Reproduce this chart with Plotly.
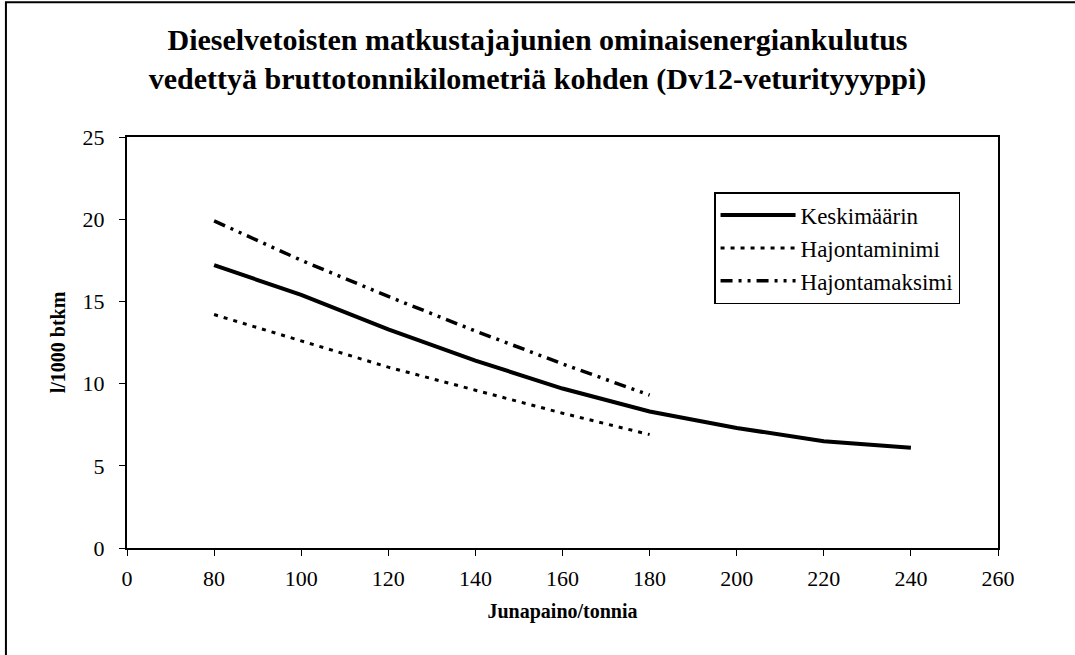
import plotly.graph_objects as go

# x-axis categories as printed on the chart (equally spaced)
tick_labels = ["0", "80", "100", "120", "140", "160", "180", "200", "220", "240", "260"]

# train weight (tonnes) and consumption (l/1000 btkm)
weights_avg = [80, 100, 120, 140, 160, 180, 200, 220, 240]
keskimaarin = [17.2, 15.4, 13.3, 11.4, 9.7, 8.3, 7.3, 6.5, 6.1]

weights_range = [80, 100, 120, 140, 160, 180]
hajontaminimi = [14.2, 12.6, 11.0, 9.6, 8.2, 6.9]
hajontamaksimi = [19.9, 17.5, 15.3, 13.2, 11.2, 9.3]

serif = "Liberation Serif, Times New Roman, serif"

fig = go.Figure()

fig.add_trace(go.Scatter(
    x=[str(w) for w in weights_avg], y=keskimaarin, mode="lines",
    name="Keskimäärin", line=dict(color="black", width=4)))
fig.add_trace(go.Scatter(
    x=[str(w) for w in weights_range], y=hajontaminimi, mode="lines",
    name="Hajontaminimi", line=dict(color="black", width=3, dash="4px,6px")))
fig.add_trace(go.Scatter(
    x=[str(w) for w in weights_range], y=hajontamaksimi, mode="lines",
    name="Hajontamaksimi",
    line=dict(color="black", width=3.5, dash="12px,6px,3px,6px,3px,6px")))

fig.update_layout(
    width=1075, height=655,
    paper_bgcolor="white", plot_bgcolor="white",
    font=dict(family=serif, size=22, color="black"),
    margin=dict(l=127, r=77, t=137, b=107),
    title=dict(
        text="<b>Dieselvetoisten matkustajajunien ominaisenergiankulutus<br>"
             "vedettyä bruttotonnikilometriä kohden (Dv12-veturityyyppi)</b>",
        x=0.5, xanchor="center", y=0.924, yanchor="top",
        font=dict(family=serif, size=30, color="black")),
    showlegend=True,
    legend=dict(
        x=0.674, y=0.866, xanchor="left", yanchor="top",
        bgcolor="white", bordercolor="black", borderwidth=1.5,
        font=dict(family=serif, size=23, color="black"),
        tracegroupgap=0, itemwidth=75),
    # outer frame of the scanned chart
    shapes=[dict(type="rect", xref="paper", yref="paper",
                 x0=-0.139, x1=1.2, y0=-0.5, y1=1.328,
                 line=dict(color="black", width=2), layer="below")],
)

fig.update_xaxes(
    type="category", categoryarray=tick_labels, categoryorder="array",
    tickvals=tick_labels, range=[0, 10],
    showline=True, linecolor="black", linewidth=2, mirror=True,
    ticks="outside", ticklen=6, tickcolor="black", showgrid=False,
    zeroline=False, ticklabelstandoff=4,
    tickfont=dict(family=serif, size=22),
    title=dict(text="<b>Junapaino/tonnia</b>", standoff=14,
               font=dict(family=serif, size=20)))

fig.update_yaxes(
    range=[0, 25], dtick=5, tick0=0,
    showline=True, linecolor="black", linewidth=2, mirror=True,
    ticks="outside", ticklen=6, tickcolor="black", showgrid=False,
    zeroline=False, ticklabelstandoff=10,
    tickfont=dict(family=serif, size=22),
    title=dict(text="<b>l/1000 btkm</b>", standoff=12,
               font=dict(family=serif, size=20)))

fig.write_html("out.html", config={"displayModeBar": False},
               post_script="document.body.style.margin = '0';")
